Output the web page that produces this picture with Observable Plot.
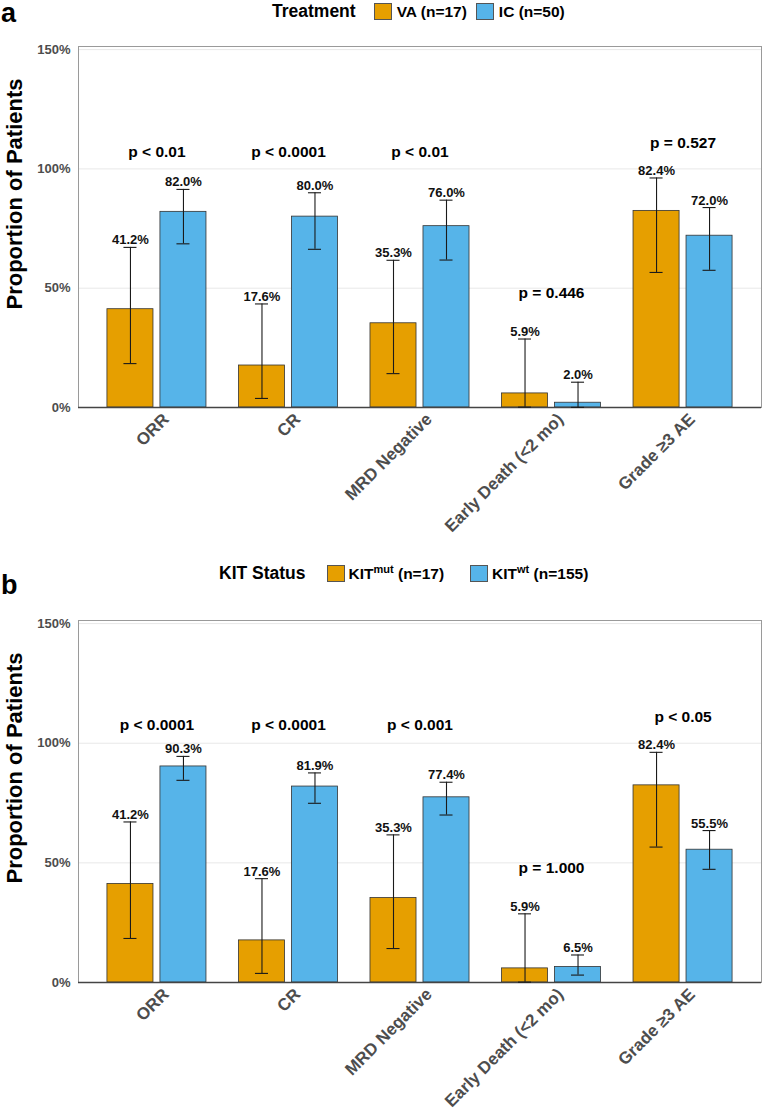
<!DOCTYPE html>
<html><head><meta charset="utf-8">
<script src="https://cdn.jsdelivr.net/npm/d3@7"></script>
<script src="https://cdn.jsdelivr.net/npm/@observablehq/plot@0.6"></script>
<style>
html,body{margin:0;padding:0;background:#fff;overflow:hidden;}
body{width:762px;height:1113px;font-family:"Liberation Sans",Arial,sans-serif;color:#000;}
.panel{position:relative;width:762px;}
.panel svg{display:block;}
.tag{position:absolute;font-size:27px;font-weight:bold;line-height:1;}
.legend{position:absolute;display:flex;align-items:center;font-weight:bold;white-space:nowrap;}
.legend .ttl{font-size:17.5px;}
.legend .sw{width:18px;height:17px;box-sizing:border-box;border:1px solid #555;}
.legend .lb{font-size:15.5px;}
.legend sup{font-size:11px;vertical-align:6px;line-height:0;}
.ytitle{position:absolute;font-size:22px;font-weight:bold;white-space:nowrap;transform:translate(-50%,-50%) rotate(-90deg);}
</style>
</head><body>
<div id="pa" class="panel"></div>
<div id="pb" class="panel"></div>
<script>
// ---------- data ----------
const categories = ["ORR", "CR", "MRD Negative", "Early Death (<2 mo)", "Grade \u22653 AE"];

// Panel a: Treatment
const treatmentTitle = "Treatment";
const treatmentGroups = ["VA (n=17)", "IC (n=50)"];
const vaValues = [41.2, 17.6, 35.3, 5.9, 82.4];
const vaLower  = [18.4, 3.8, 14.2, 0.15, 56.6];
const vaUpper  = [67.1, 43.4, 61.7, 28.7, 96.2];
const icValues = [82.0, 80.0, 76.0, 2.0, 72.0];
const icLower  = [68.6, 66.3, 61.8, 0.05, 57.5];
const icUpper  = [91.4, 90.0, 86.9, 10.6, 83.8];
const pLabelsA = ["p < 0.01", "p < 0.0001", "p < 0.01", "p = 0.446", "p = 0.527"];
const pHeightsA = [107, 107, 107, 48, 111];

// Panel b: KIT status
const kitTitle = "KIT Status";
const kitGroups = ["KIT<sup>mut</sup> (n=17)", "KIT<sup>wt</sup> (n=155)"];
const mutValues = [41.2, 17.6, 35.3, 5.9, 82.4];
const mutLower  = [18.4, 3.8, 14.2, 0.15, 56.6];
const mutUpper  = [67.1, 43.4, 61.7, 28.7, 96.2];
const wtValues  = [90.3, 81.9, 77.4, 6.5, 55.5];
const wtLower   = [84.5, 74.9, 70.0, 3.1, 47.3];
const wtUpper   = [94.5, 87.6, 83.7, 11.5, 63.5];
const pLabelsB = ["p < 0.0001", "p < 0.0001", "p < 0.001", "p = 1.000", "p < 0.05"];
const pHeightsB = [107.5, 107.5, 107.5, 48, 111];

const yTicks = [0, 50, 100, 150];
const colors = ["#E69F00", "#56B4E9"];

// ---------- drawing ----------
const FONT = '"Liberation Sans", Arial, sans-serif';
const OFF = 26.5;   // half dodge distance (px)

function rows(vals, lo, hi) {
  return categories.map((c, i) => ({cat: c, v: vals[i], lo: lo[i], hi: hi[i], label: vals[i].toFixed(1) + "%"}));
}

function makePlot({left, right, pLabels, pHeights, height, marginTop, marginBottom}) {
  const pRows = categories.map((c, i) => ({cat: c, p: pLabels[i], h: pHeights[i]}));
  const errStyle = {stroke: "#1a1a1a", strokeWidth: 1.1};
  const lblStyle = {fontWeight: "bold", fontSize: 13, fill: "#111", lineAnchor: "bottom", dy: -3};
  return Plot.plot({
    width: 762, height, marginLeft: 78, marginRight: 1, marginTop, marginBottom,
    style: {fontFamily: FONT, background: "#fff", overflow: "visible"},
    x: {domain: categories, paddingInner: 0.247, paddingOuter: 0.22, round: false, label: null},
    y: {domain: [0, 151.3], label: null},
    marks: [
      Plot.gridY([50, 100, 150], {stroke: "#e8e8e8", strokeOpacity: 1, strokeWidth: 1}),
      Plot.frame({stroke: "#9a9a9a", strokeWidth: 1}),
      Plot.barY(left, {x: "cat", y: "v", fill: colors[0], stroke: "#333", strokeWidth: 0.8, insetRight: 53}),
      Plot.barY(right, {x: "cat", y: "v", fill: colors[1], stroke: "#333", strokeWidth: 0.8, insetLeft: 53}),
      Plot.ruleY([0], {stroke: "#444", strokeWidth: 1.3}),
      Plot.ruleX(left, {x: "cat", y1: "lo", y2: "hi", dx: -OFF, ...errStyle}),
      Plot.ruleX(right, {x: "cat", y1: "lo", y2: "hi", dx: OFF, ...errStyle}),
      Plot.tickY(left, {x: "cat", y: "hi", insetLeft: 16.5, insetRight: 69.5, ...errStyle}),
      Plot.tickY(left, {x: "cat", y: "lo", insetLeft: 16.5, insetRight: 69.5, ...errStyle}),
      Plot.tickY(right, {x: "cat", y: "hi", insetLeft: 69.5, insetRight: 16.5, ...errStyle}),
      Plot.tickY(right, {x: "cat", y: "lo", insetLeft: 69.5, insetRight: 16.5, ...errStyle}),
      Plot.text(left, {x: "cat", y: "hi", text: "label", dx: -OFF, ...lblStyle}),
      Plot.text(right, {x: "cat", y: "hi", text: "label", dx: OFF, ...lblStyle}),
      Plot.text(pRows, {x: "cat", y: "h", text: "p", fontWeight: "bold", fontSize: 15.5, fill: "#000"}),
      Plot.axisY({ticks: yTicks, tickFormat: d => d + "%", tickSize: 0, tickPadding: 8,
                  fontWeight: "bold", fontSize: 13, fill: "#4d4d4d", label: null}),
      Plot.axisX({tickRotate: -45, tickSize: 0, tickPadding: 6, dx: 9, dy: 3, fontWeight: "bold", fontSize: 17,
                  fill: "#4d4d4d", label: null})
    ]
  });
}

function legend(parent, {x, y, title, groups, gapTitle, gapText, gapItem}) {
  const d = document.createElement("div");
  d.className = "legend";
  d.style.left = x + "px"; d.style.top = y + "px";
  let html = `<span class="ttl" style="margin-right:${gapTitle}px">${title}</span>`;
  groups.forEach((g, i) => {
    html += `<span class="sw" style="background:${colors[i]};margin-right:${gapText}px"></span>` +
            `<span class="lb" style="margin-right:${i < groups.length - 1 ? gapItem : 0}px">${g}</span>`;
  });
  d.innerHTML = html;
  parent.appendChild(d);
}
function addText(parent, cls, text, x, y) {
  const d = document.createElement("div");
  d.className = cls; d.textContent = text;
  d.style.left = x + "px"; d.style.top = y + "px";
  parent.appendChild(d);
}

// Panel a
const pa = document.getElementById("pa");
pa.appendChild(makePlot({left: rows(vaValues, vaLower, vaUpper), right: rows(icValues, icLower, icUpper),
  pLabels: pLabelsA, pHeights: pHeightsA, height: 560, marginTop: 46, marginBottom: 153}));
addText(pa, "tag", "a", 1, 0);
legend(pa, {x: 272, y: 1, title: treatmentTitle, groups: treatmentGroups, gapTitle: 18, gapText: 5, gapItem: 9});
addText(pa, "ytitle", "Proportion of Patients", 15, 194);

// Panel b
const pb = document.getElementById("pb");
pb.appendChild(makePlot({left: rows(mutValues, mutLower, mutUpper), right: rows(wtValues, wtLower, wtUpper),
  pLabels: pLabelsB, pHeights: pHeightsB, height: 553, marginTop: 60, marginBottom: 131}));
addText(pb, "tag", "b", 1, 12);
legend(pb, {x: 219, y: 3, title: kitTitle, groups: kitGroups, gapTitle: 21, gapText: 4, gapItem: 26});
addText(pb, "ytitle", "Proportion of Patients", 15, 208);
</script>
</body></html>
